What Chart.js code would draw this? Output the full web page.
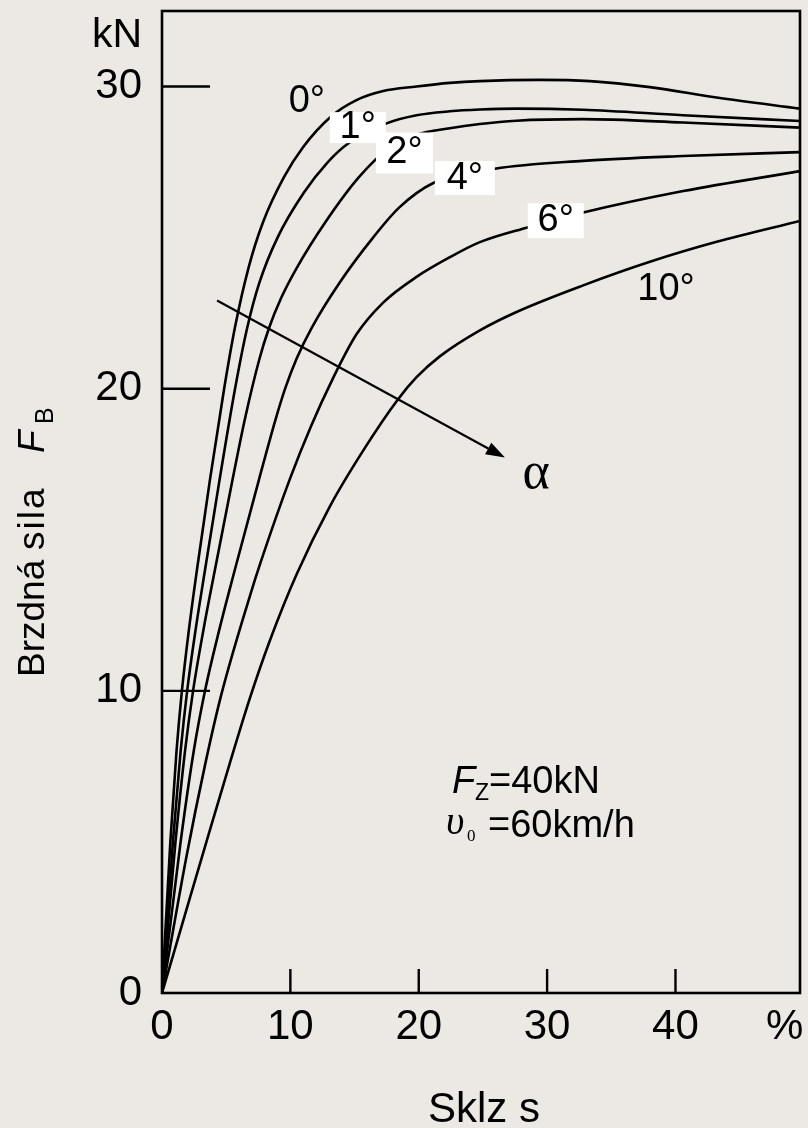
<!DOCTYPE html>
<html>
<head>
<meta charset="utf-8">
<script src="https://cdn.jsdelivr.net/npm/chart.js@4.4.1/dist/chart.umd.min.js"></script>
<style>
  html, body { margin: 0; padding: 0; background: #ece8e4; }
  canvas { display: block; }
</style>
</head>
<body>
<canvas id="chart" width="808" height="1128"></canvas>
<script>
// Braking force F_B [kN] versus slip s [%] for several slip angles
const angleNames = ['0°', '1°', '2°', '4°', '6°', '10°'];

const slip0  = [0, 0.65, 1.13, 1.55, 2.09, 2.72, 3.74, 4.84, 5.67, 6.74, 7.86, 9.5, 11.0, 13.15, 15.15, 17.23, 19.83, 22.42, 24.76, 29.44, 33.33, 38.0, 43.2, 49.7];
const force0 = [0, 5, 8, 10, 12, 14, 17, 20, 22, 24, 25.5, 27, 28, 29, 29.55, 29.85, 30.0, 30.12, 30.18, 30.22, 30.18, 29.98, 29.64, 29.27];

const slip1  = [0, 0.85, 1.45, 1.96, 2.61, 3.35, 4.49, 5.69, 6.63, 7.58, 9.0, 11.07, 12.92, 14.45, 17.49, 19.83, 22.42, 24.76, 27.62, 32.79, 40.58, 49.7];
const force1 = [0, 5, 8, 10, 12, 14, 17, 20, 22, 23.5, 25, 26.5, 27.5, 28.1, 28.78, 29.05, 29.18, 29.24, 29.27, 29.23, 29.05, 28.86];

const slip2  = [0, 1.05, 1.79, 2.42, 3.22, 4.12, 5.5, 6.46, 7.6, 8.33, 9.28, 10.5, 12.71, 15.34, 17.79, 19.79, 22.42, 24.76, 27.62, 32.79, 40.58, 49.7];
const force2 = [0, 5, 8, 10, 12, 14, 17, 19, 21, 22, 23, 24, 25.5, 27, 28, 28.4, 28.62, 28.76, 28.87, 28.92, 28.81, 28.64];

const slip4  = [0, 1.45, 2.47, 3.35, 4.45, 5.67, 7.56, 8.86, 9.59, 10.49, 11.64, 13.82, 16.44, 18.49, 21.1, 25.93, 32.79, 40.58, 49.7];
const force4 = [0, 5, 8, 10, 12, 14, 17, 19, 20, 21, 22, 23.5, 25, 26, 26.8, 27.28, 27.54, 27.7, 27.83];

const slip6  = [0, 1.9, 3.33, 4.6, 6.84, 7.68, 9.95, 11.6, 13.28, 15.15, 17.23, 19.83, 22.42, 24.76, 28.4, 32.81, 40.61, 49.7];
const force6 = [0, 4.5, 7.5, 9.84, 13.13, 14.25, 17.0, 18.75, 20.31, 21.8, 22.85, 23.7, 24.35, 24.85, 25.33, 25.83, 26.54, 27.2];

const slip10  = [0, 1.9, 3.46, 5.28, 6.84, 8.39, 10.48, 13.07, 15.67, 18.39, 19.83, 21.64, 24.76, 27.62, 32.81, 38.01, 43.21, 49.7];
const force10 = [0, 2.75, 5.0, 7.6, 9.75, 11.65, 13.85, 16.1, 17.95, 19.65, 20.38, 21.07, 21.93, 22.54, 23.42, 24.2, 24.86, 25.55];

const yTicks = [0, 10, 20, 30];
const xTicks = [0, 10, 20, 30, 40];
const xUnit = '%';

const SANS = '"Liberation Sans", Arial, Helvetica, sans-serif';
const SERIF = '"Liberation Serif", "Times New Roman", serif';
const INK = '#000';
const PAPER = '#ece8e4';

const series = [[slip0, force0], [slip1, force1], [slip2, force2], [slip4, force4], [slip6, force6], [slip10, force10]];

const datasets = series.map(([s, f], i) => ({
  label: angleNames[i],
  data: s.map((v, k) => ({ x: v, y: f[k] })),
  borderColor: INK,
  borderWidth: 2.6,
  pointRadius: 0,
  fill: false,
  cubicInterpolationMode: 'monotone'
}));

// where each angle label sits (slip, force) and the size of its white patch
const labelSpots = [
  { s: 11.28, f: 29.52, box: null },
  { s: 15.25, f: 28.64, box: [56, 31] },
  { s: 18.89, f: 27.80, box: [57, 41] },
  { s: 23.59, f: 26.97, box: [60, 34] },
  { s: 30.67, f: 25.56, box: [56, 35] },
  { s: 39.26, f: 23.28, box: null }
];
const xUnitAt = 48.5;
const arrowFrom = { s: 4.29, f: 22.92 };
const arrowTo = { s: 26.71, f: 17.72 };

const decor = {
  id: 'decor',
  beforeDraw(chart) {
    const { ctx, width, height } = chart;
    ctx.save();
    ctx.fillStyle = PAPER;
    ctx.fillRect(0, 0, width, height);
    ctx.restore();
  },
  afterDatasetsDraw(chart) {
    const { ctx, chartArea: a, scales: { x, y } } = chart;
    ctx.save();
    ctx.strokeStyle = INK;
    ctx.fillStyle = INK;

    // frame around the plot
    ctx.lineWidth = 2.6;
    ctx.strokeRect(a.left, a.top, a.right - a.left, a.bottom - a.top);

    // inward tick marks
    ctx.lineWidth = 2.4;
    ctx.beginPath();
    yTicks.filter(v => v > 0).forEach(v => {
      const p = y.getPixelForValue(v);
      ctx.moveTo(a.left, p);
      ctx.lineTo(a.left + 48, p);
    });
    xTicks.filter(v => v > 0).forEach(v => {
      const p = x.getPixelForValue(v);
      ctx.moveTo(p, a.bottom);
      ctx.lineTo(p, a.bottom - 24);
    });
    ctx.stroke();

    // angle labels
    ctx.font = '38px ' + SANS;
    ctx.textAlign = 'center';
    ctx.textBaseline = 'middle';
    labelSpots.forEach((spot, i) => {
      const cx = x.getPixelForValue(spot.s);
      const cy = y.getPixelForValue(spot.f);
      if (spot.box) {
        ctx.fillStyle = '#fff';
        ctx.fillRect(cx - spot.box[0] / 2, cy - spot.box[1] / 2, spot.box[0], spot.box[1]);
      }
      ctx.fillStyle = INK;
      ctx.fillText(angleNames[i], cx, cy);
    });

    // direction arrow for increasing slip angle
    const x0 = x.getPixelForValue(arrowFrom.s), y0 = y.getPixelForValue(arrowFrom.f);
    const x1 = x.getPixelForValue(arrowTo.s), y1 = y.getPixelForValue(arrowTo.f);
    const ang = Math.atan2(y1 - y0, x1 - x0);
    const headLen = 19, headHalf = 6.5;
    const bx = x1 - headLen * Math.cos(ang), by = y1 - headLen * Math.sin(ang);
    ctx.lineWidth = 2.2;
    ctx.beginPath();
    ctx.moveTo(x0, y0);
    ctx.lineTo(bx, by);
    ctx.stroke();
    ctx.beginPath();
    ctx.moveTo(x1, y1);
    ctx.lineTo(bx + headHalf * Math.sin(ang), by - headHalf * Math.cos(ang));
    ctx.lineTo(bx - headHalf * Math.sin(ang), by + headHalf * Math.cos(ang));
    ctx.closePath();
    ctx.fill();

    ctx.textAlign = 'center';
    ctx.textBaseline = 'alphabetic';
    ctx.font = '52px ' + SERIF;
    ctx.fillText('α', 536, 488);

    // test conditions
    ctx.textAlign = 'left';
    ctx.font = 'italic 38px ' + SANS;
    ctx.fillText('F', 452, 793);
    ctx.font = '23px ' + SANS;
    ctx.fillText('Z', 475, 800);
    ctx.font = '38px ' + SANS;
    ctx.fillText('=40kN', 489, 793);

    ctx.font = 'italic 40px ' + SERIF;
    ctx.fillText('υ', 446, 834);
    ctx.font = '17px ' + SERIF;
    ctx.fillText('0', 467, 841);
    ctx.font = '38px ' + SANS;
    ctx.fillText('=60km/h', 488, 837);

    // unit above the force axis
    ctx.textAlign = 'right';
    ctx.font = '41px ' + SANS;
    ctx.fillText('kN', 142, 47);

    // axis titles
    ctx.textAlign = 'center';
    ctx.font = '42px ' + SANS;
    ctx.fillText('Sklz s', 484, 1122);

    ctx.save();
    ctx.translate(44, 677);
    ctx.rotate(-Math.PI / 2);
    ctx.textAlign = 'left';
    ctx.font = '37px ' + SANS;
    ctx.fillText('Brzdná', 0, 0);
    if ('letterSpacing' in ctx) ctx.letterSpacing = '2px';
    ctx.fillText('sila', 127, 0);
    if ('letterSpacing' in ctx) ctx.letterSpacing = '0px';
    ctx.font = 'italic 37px ' + SANS;
    ctx.fillText('F', 224, 0);
    ctx.font = '25px ' + SANS;
    ctx.fillText('B', 253, 9);
    ctx.restore();

    ctx.restore();
  }
};

new Chart(document.getElementById('chart'), {
  type: 'line',
  data: { datasets },
  options: {
    responsive: false,
    animation: false,
    devicePixelRatio: 1,
    layout: { padding: { top: 11, right: 8, left: 0, bottom: 0 } },
    plugins: { legend: { display: false }, tooltip: { enabled: false } },
    scales: {
      x: {
        type: 'linear',
        min: 0,
        max: 49.7,
        grid: { display: false, drawTicks: false },
        border: { display: false },
        afterBuildTicks: sc => { sc.ticks = xTicks.concat([xUnitAt]).map(v => ({ value: v })); },
        ticks: {
          padding: 9,
          color: INK,
          autoSkip: false,
          maxRotation: 0,
          font: { family: SANS, size: 42 },
          callback: (v, i) => (i < xTicks.length ? String(xTicks[i]) : xUnit)
        },
        afterFit: sc => { sc.height = 135; sc.paddingLeft = 0; sc.paddingRight = 0; }
      },
      y: {
        type: 'linear',
        min: 0,
        max: 32.5,
        grid: { display: false, drawTicks: false },
        border: { display: false },
        afterBuildTicks: sc => { sc.ticks = yTicks.map(v => ({ value: v })); },
        ticks: {
          padding: 20,
          color: INK,
          font: { family: SANS, size: 42 },
          callback: v => String(v)
        },
        afterFit: sc => { sc.width = 162; sc.paddingTop = 0; sc.paddingBottom = 0; }
      }
    }
  },
  plugins: [decor]
});
</script>
</body>
</html>
